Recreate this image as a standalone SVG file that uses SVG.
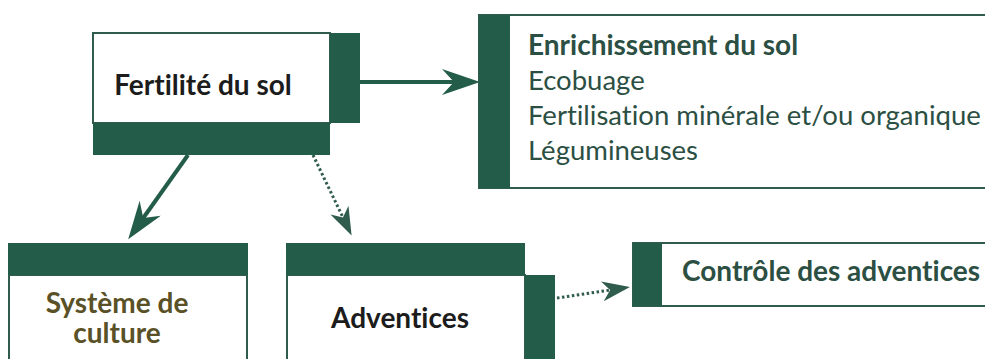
<svg xmlns="http://www.w3.org/2000/svg" width="985" height="359" viewBox="0 0 985 359">
  <defs>
    <style>
      text { font-family: "Lato", "Noto Sans", sans-serif; font-variant-ligatures: none; }
      .bar { fill: #235c48; }
      .panel { fill: #ffffff; stroke: #2f5c4c; stroke-width: 2; }
      .lbl { font-weight: bold; font-size: 28px; fill: #1c1c1c; }
      .olive { fill: #5a5127; }
      .green { fill: #2c4f43; }
      .item { font-size: 27.5px; fill: #2c4f43; }
      .head { font-weight: bold; font-size: 28px; fill: #2c4f43; }
      .link { fill: none; stroke: #235c48; stroke-width: 4; }
      .dot { fill: none; stroke: #2f5c4c; stroke-width: 3; stroke-dasharray: 2.5 2.5; }
    </style>
    <marker id="arrow" markerUnits="userSpaceOnUse" markerWidth="40" markerHeight="28" refX="28" refY="13" orient="auto">
      <path d="M0,0 L38,13 L0,26 L12,13 Z" fill="#235c48"/>
    </marker>
    <marker id="arrowSmall" markerUnits="userSpaceOnUse" markerWidth="30" markerHeight="22" refX="22" refY="10" orient="auto">
      <path d="M0,0 L28,10 L0,20 L8,10 Z" fill="#2f5c4c"/>
    </marker>
  </defs>
  <rect width="985" height="359" fill="#ffffff"/>

  <!-- connectors -->
  <g id="connectors">
    <line class="link" x1="360" y1="82" x2="470" y2="82" marker-end="url(#arrow)"/>
    <line class="link" x1="188" y1="155" x2="134" y2="231" marker-end="url(#arrow)"/>
    <line class="dot" x1="313" y1="155" x2="349" y2="230" marker-end="url(#arrowSmall)"/>
    <line class="dot" x1="557" y1="298" x2="624" y2="288" marker-end="url(#arrowSmall)"/>
  </g>

  <!-- Fertilité du sol -->
  <g id="fertilite">
    <rect class="panel" x="93" y="33" width="237" height="90"/>
    <rect class="bar" x="330" y="33" width="30" height="90"/>
    <rect class="bar" x="93" y="123" width="237" height="32"/>
    <text class="lbl" x="203" y="95" text-anchor="middle">Fertilité du sol</text>
  </g>

  <!-- Enrichissement du sol -->
  <g id="enrichissement">
    <rect class="panel" x="479" y="15" width="520" height="173"/>
    <rect class="bar" x="479" y="15" width="31" height="173"/>
    <text class="head" x="528" y="55">Enrichissement du sol</text>
    <text class="item" x="528" y="90">Ecobuage</text>
    <text class="item" x="528" y="125">Fertilisation minérale et/ou organique</text>
    <text class="item" x="528" y="160">Légumineuses</text>
  </g>

  <!-- Système de culture -->
  <g id="systeme">
    <rect class="panel" x="9" y="275" width="238" height="100"/>
    <rect class="bar" x="8" y="243" width="240" height="32"/>
    <text class="lbl olive" x="117" y="313" text-anchor="middle">Système de</text>
    <text class="lbl olive" x="117" y="343" text-anchor="middle">culture</text>
  </g>

  <!-- Adventices -->
  <g id="adventices">
    <rect class="panel" x="287" y="275" width="238" height="100"/>
    <rect class="bar" x="286" y="243" width="239" height="32"/>
    <rect class="bar" x="525" y="275" width="30" height="84"/>
    <text class="lbl" x="400" y="328" text-anchor="middle">Adventices</text>
  </g>

  <!-- Contrôle des adventices -->
  <g id="controle">
    <rect class="panel" x="633" y="243" width="370" height="63"/>
    <rect class="bar" x="633" y="243" width="29" height="63"/>
    <text class="lbl green" x="682" y="281">Contrôle des adventices</text>
  </g>
</svg>
